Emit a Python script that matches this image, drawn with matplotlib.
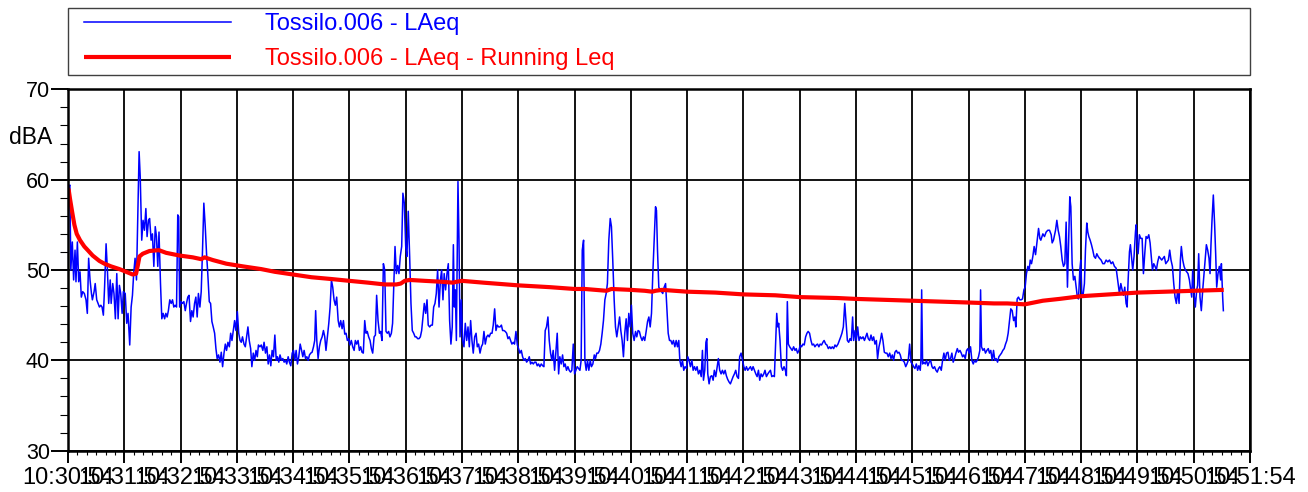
import numpy as np
import matplotlib
matplotlib.use("Agg")
import matplotlib.pyplot as plt
from matplotlib.lines import Line2D
from matplotlib.legend_handler import HandlerLine2D
from matplotlib.ticker import MultipleLocator

# ---------------- data (time in seconds after 10:30:54, level in dBA) ----------------
laeq_seg1 = [(0.7,59.2),(2,59.4),(3,50),(4.6,53.1),(6,48.9),(7.5,52.2),(8.5,48.7),(10,53.1),(11.4,48.7),(12.8,49.8),
 (14.2,47),(15.7,47.6),(17.4,47.4),(19.2,46.7),(20.6,45.2),(22,51.3),(23.5,48.9),(25,47.4),(26,46.7),(27.8,47.6),
 (29,48.5),(30.6,46.7),(32,46.3),(33.5,45.9),(35,46.1),(36.3,45.9),(37.7,45),(39,48.1),(40.6,52.9),(42,50),
 (43.4,46.3),(45,48.9),(46,46.3),(47.7,48.5),(49,47.4),(50.5,44.6),(52,49.6),(53.4,44.6),(54.8,48.3),(56.2,47.4),
 (57.7,45.2),(59,47.6),(61,47.4),(62.6,44.1),(64,45.2),(65.8,41.7),(67.3,45.9),(68.7,47.2),(70,49.6),(71.5,51.3),
 (73,48.9),(74.4,55.9),(75.8,63.1),(77,60.3),(78.6,53.3),(80,55.5),(81.5,54.4),(83,56.8),(84.3,53.7),(85.8,55.5),
 (87,55.7),(88.6,53.3),(90,54),(91.5,50.4),(93,54.8),(94.3,53.7),(95.7,50.4),(97,54.2),(98.6,48.5),(100,44.6),
 (101.4,45.2),(103,44.6),(104.3,45.2),(105.7,44.8),(107,45.5),(108.5,46.7),(110,46.3),(111.4,46.7),(112.8,45.9),
 (114.2,46.1),(115.7,45.9),(117,56.1),(118,55.9),(119,45.9),(120.6,46.5),(122,46.3),(123.5,46.5),(125,45.5),
 (126.3,46.3),(127.7,47),(129,47.2),(130.6,44.3),(132,45.5),(133.4,44.8),(134.9,46.3),(136.3,47),(137.7,44.8),
 (139,47.4),(140.6,45.9),(142,47.6),(143.4,52.2),(144.8,57.4),(146.3,54.8),(147.7,51.8),(149,49.6),(150.6,46.5),
 (152,46.3),(153.4,44.3),(154.8,43.7),(156.3,43),(157.7,41.3),(159,40.2),(160.5,40.6),(162,39.8),(163.4,40.9),
 (164.8,39.3),(166.3,40.8),(167.7,41.8),(169,41.1),(170.5,42),(172,41.5),(173.4,43),(174.8,42.2),(176.2,43.3),
 (177.6,44.4),(179,43.3),(180.5,45.4),(182,43),(183.4,42.2),(184.7,42),(186,42.6),(187.6,41.8),(189,41.5),
 (190.4,42.6),(191.8,43.7),(193.2,42.2),(194.7,41.3),(196,39.3),(197.5,40.8),(199,40),(200.4,41.1),(201.8,40.4),
 (203,41.7),(204.6,41.5),(206,41.7)]

laeq_seg2 = [(207.7,41.1),(209,42),(210.5,40.8),(212,41.5),(213.4,39.6),(214.8,40.6),(216.2,39.4),(217.6,41.1),
 (219,40.4),(220.5,42.8),(222,40),(223.3,40.4),(224.7,39.8),(226,40.6),(227.6,40),(229,40.2),(230.4,39.8),(231.8,40),
 (233.2,39.6),(234.7,40.4),(236,39.8),(237.5,39.4),(239,40.8),(240.4,41.1),(241.8,40),(243.2,41.1),(244.6,39.6),
 (246,40.4),(247.5,41.8),(249,41.1),(250.3,40.4),(251.7,41.1),(253.2,40.2),(254.6,40.4),(256,40),(257.4,40.6),
 (258.8,40.8),(260.2,40.9),(261.7,41.5),(263,42.2),(264,45.5),(265.2,42.2),(266.6,40.2),(268,41.5),(269.4,42.2),
 (270.9,42.6),(272.3,43.3),(273.7,42.6),(275,41.1),(276.5,42.6),(278,44.1),(279.4,45.9),(280.8,48.9),(282.2,48.1),
 (283.6,46.7),(285,46.1),(286.4,47),(288,44.4),(289.3,43.7),(290.7,44.4),(292.2,43.5),(293.6,44.4),(295,42.9),
 (296.4,43),(297.8,42.2),(299.2,42.4),(300.6,41.7),(302,42.2),(303.5,41.5),(305,41.1),(306.3,42.2),(307.7,41.8),
 (309.2,42.2),(310.6,41.1),(312,41.5),(313.4,40.9),(314.8,40.8),(316.3,44.4),(317.7,43),(319,43.2),(320.5,42.6),
 (322,42.2),(323.4,41.3),(324.8,40.8),(326.3,42.6),(327.7,42.8),(329,47.2),(330.5,44.4),(332,43),(333.3,43.2),
 (334.7,42.2),(336.2,50.7),(337.6,50),(339,43.2),(340.4,43),(341.8,43.2),(343.2,42.6),(344.7,43),(346,44.1),
 (347.5,49.2),(348.6,52.6),(350,49.6),(351.4,50.5),(352.8,49.6),(354.2,51.5),(355.7,52.6),(357,58.5),(358.5,57.4),
 (360,52.6),(361.3,51.5),(362.7,56.5),(364.2,51.5),(365.6,46.3),(367,43.3),(368.5,43),(370,42.6),(371.3,42.6),
 (372.7,42.4),(374.2,42.4),(375.6,42.6),(377,43.3),(378.4,44.8),(379.8,46.3),(381.3,45.2),(382.7,46.7),(384,43.9),
 (385.5,43.7),(387,43.9),(388.4,43.9),(389.8,45.9),(391.2,46.3),(392.6,47.4),(394,50),(395.5,45.9),(397,48.9),
 (398.3,50),(399.7,46.7),(401,49.6),(402.5,47.8),(404,49.6),(405.4,50.7),(406.8,44.4),(408.2,41.8),(409.6,43.7)]

laeq_seg3 = [(410.8,52.8),(411.8,45.9),(412.9,47.8),(414,42.2),(415,52.6),(415.7,59.8),(416.8,53.3),(417.9,42.6),
 (419.3,46.7),(420.7,42.2),(422.1,41.5),(423.5,44.1),(425,42.2),(426.4,43.7),(427.8,41.5),(429.2,44.4),(430.6,42.2),
 (432,40.8),(433.5,42.6),(435,43),(436.3,41.5),(437.7,41.8),(439.2,40.8),(440.6,41.5),(442,41.8),(443.4,43.2),
 (444.8,41.8),(446.3,42.6),(447.7,42.8),(449,42.6),(450.5,43),(452,43),(453.3,43.9),(454.8,45.7),(456.2,43.3),
 (457.6,43.9),(459,43.7),(460.5,43.7),(462,43.9),(463.3,43.3),(464.7,43.3),(466.1,43.2),(467.6,43),(469,42.4),
 (470.4,42.6),(471.8,42.2),(473.2,41.8),(474.7,42),(476,41.8),(477.5,43.2),(479,41.7),(480.3,41.3),(481.7,40.8),
 (483.2,41.1),(484.6,40.4),(486,40),(487.4,40.2),(488.9,39.8),(490.3,40),(491.7,40.4),(493.1,39.6),(494.5,39.8),
 (496,39.6),(497.4,39.8),(498.8,39.8),(500.2,39.4),(501.6,39.6),(503,39.3),(504.5,39.6),(506,39.4),(507.3,39.3),
 (508.7,43.3),(510.1,43.7),(511.6,44.8),(513,42.2),(514.4,40.8),(515.8,40),(517.2,41.1),(518.7,38.9),(520,40.8),
 (521.5,43),(523,38.5),(524.3,40.4),(525.8,39.6),(527.2,40.6),(528.6,39.3),(530,39.6),(531.4,38.9),(532.9,39.3),
 (534.3,38.9),(535.7,38.7),(537.1,38.9),(538.6,41.8),(540,38.5),(541.4,38.9),(542.8,39.3),(544.2,39.1),(545.7,38.9),
 (547,40),(548.2,52.2),(549.6,53.3),(551,40),(552.4,38.9),(553.8,40),(555.2,38.9),(556.7,40),(558,39.3),(559.5,39.6),
 (561,40.6),(562.3,40.2),(563.7,40.8),(565.2,40.8),(566.6,41.1),(568,41.8),(569.4,43),(570.8,44.4),(572.3,46.7),
 (573.7,47.4),(575,48.5),(576.5,53.3),(578,55.7),(579.3,54.8),(580.7,51.1),(582.2,46.7),(583.6,43.7),(585,42.6),
 (586.5,43.7),(588,44.8),(589.3,43.3),(590.7,42.2),(592.1,40.4),(593.5,43),(595,44.6),(596.4,42.2),(597.8,45.2),
 (599.2,43.7),(600.6,46.1),(602,43),(603.5,42.2),(605,43.2),(606.3,42.6),(607.7,43.3),(609.1,43.2),(610.5,42.6),
 (612,42.2),(613.4,42.6),(614.8,42.2)]

laeq_seg4 = [(616.3,43.2),(617.8,44.3),(619.2,44.8),(620.6,43.7),(622,45.2),(623.4,49.6),(624.9,53.3),(626.3,57),
 (627.3,56.6),(628.4,52.2),(629.8,48.1),(631.2,47.8),(632.7,47.6),(634,47.4),(635.5,48.1),(637,48.5),(638.3,45.9),
 (639.8,43),(641.2,42.2),(642.6,42.2),(644,41.8),(645.4,42.2),(646.9,41.5),(648.3,42.2),(649.7,41.5),(651.1,42.2),
 (652.2,40),(653.6,39.3),(655,40),(656.4,38.9),(657.8,39.3),(659.3,39.1),(660.7,40.4),(662,40),(663.5,39.3),(665,40),
 (666.4,38.9),(667.8,39.3),(669.2,38.9),(670.6,39.3),(672,38.5),(673.5,38.9),(675,38.2),(676.3,41.1),(677.4,37.8),
 (678.8,38.9),(680,42),(681,42.4),(682,38.5),(683.4,37.4),(684.8,38.2),(686.3,38.3),(687.7,37.8),(689,38.9),
 (690.5,38.2),(692,39.3),(693.3,40.2),(694.7,38.9),(696.2,38.5),(697.6,38.9),(699,38.5),(700.5,38.9),(701.8,38.3),
 (703.2,37.9),(704.7,37.6),(706.1,37.4),(707.6,37.8),(709,38.2),(710.4,38.5),(711.8,38.9),(713.2,38.2),(714.7,38),
 (716,40.4),(717.5,40.8),(719,40),(720.4,39.3),(721.8,38.9),(723.2,39.3),(724.6,38.9),(726,39.1),(727.5,39.3),
 (728.9,38.9),(730.3,39.3),(731.7,38.9),(733.2,38.5),(734.6,38.2),(736,38.9),(737.4,37.8),(738.8,38.5),(740.2,38.2),
 (741.7,38.5),(743,38.9),(744.5,38.2),(746,38.5),(747.3,38.7),(748.8,38.9),(750.2,38.2),(751.6,38.3),(753,38.2),
 (754.4,42.2),(755.5,45.2),(756.6,43.7),(757.6,44.1),(759,42.2),(760.4,39.3),(761.8,38.9),(763.3,39.3),(764.7,38.9),
 (765.8,38.3),(766.8,46.5),(767.9,41.8),(769.3,41.5),(770.7,41.3),(772,41.1),(773.5,41.5),(775,41.1),(776.3,41.3),
 (777.7,40.8),(779.2,41.1),(780.6,41.7),(782,41.5),(783.4,41.8),(784.8,41.7),(786.3,42.6),(787.7,43),(789,43.2),
 (790.5,43),(792,42.2),(793.3,41.7),(794.8,41.8),(796.2,41.5),(797.6,41.7),(799,41.8),(800.4,41.5),(801.8,41.8),
 (803.3,41.7),(804.7,42),(806,42.2),(807.7,41.8),(809,41.7),(810.5,41.3),(812,41.5),(813.3,41.3),(814.7,41.5),
 (816.2,41.3),(817.6,41.7),(819,41.5)]

laeq_seg5 = [(820.8,41.8),(822.3,42.2),(823.7,42.6),(825,43),(826.5,43.7),(828,46.3),(829.3,44.4),(830.8,42.2),
 (832.2,42),(833.6,42.4),(835,42.2),(836.4,44.8),(837.5,42.2),(839,43.3),(840.3,42.2),(841.8,43.7),(843.2,42.2),
 (844.6,42.6),(846,42.4),(847.5,42.6),(849,42.2),(850.3,42.6),(851.7,43),(853.1,42.4),(854.6,42.2),(856,42.8),
 (857.4,42.2),(858.8,42.6),(860.2,41.8),(861.7,42.2),(863,40.2),(864.5,41.5),(866,42.2),(867.3,43),(868.7,42.2),
 (870.2,40.9),(871.6,40.8),(873,40.8),(874.4,40.4),(875.9,40.8),(877.3,40.2),(878.7,40.6),(880.1,40),(881.5,40.9),
 (883,41.1),(884.4,40.8),(885.8,40.9),(887.2,40.6),(888.6,40),(890,40),(891.5,39.8),(893,39.3),(894.3,39.6),
 (895.7,40),(897.2,41.8),(898.6,39.8),(900,39.6),(901.4,39.3),(902.8,39.1),(904.3,39.6),(905.7,38.9),(907,39.4),
 (908.5,38.9),(909.2,40),(910,47.8),(911,39.6),(912.4,39.8),(913.8,39.6),(915.2,40),(916.6,39.4),(918,39.8),
 (919.5,40),(921,39.3),(922.3,39.1),(923.7,39.3),(925.2,38.9),(926.6,38.7),(928,39.1),(929.4,39.3),(930.9,38.9),
 (932.3,40),(933.7,40.8),(935.1,40),(936.5,40.8),(938,40.9),(939.4,40),(940.8,40.2),(942.2,40.8),(943.6,39.8),
 (945,40.2),(946.5,40.8),(948,41.3),(949.3,40.9),(950.8,41.1),(952.2,40.8),(953.6,40.4),(955,40.6),(956.4,40.2),
 (957.9,41.1),(959.3,41.3),(960.7,40.8),(962.1,41.5),(963.5,40),(965,39.6),(966.4,40),(967.8,39.8),(969.2,40),
 (970.6,40.4),(972,41.1),(972.8,47.8),(973.8,41.5),(975.3,41.1),(976.7,41.3),(978,40.8),(979.5,41.1),(981,41.3),
 (982.3,40.8),(983.7,41.1),(985.2,40),(986.6,41.1),(988,40),(989.4,40.2),(990.9,39.8),(992.3,40.4),(993.7,40.6),
 (995.1,40.8),(996.5,41.1),(998,41.3),(999.4,41.8),(1000.8,42.2),(1002.2,43),(1003.6,44.4),(1005,45.7),(1006.5,45.5),
 (1008,44.4),(1009.3,44.8),(1010.4,43.7),(1011.8,46.8),(1013.2,47),(1014.6,46.7),(1016,46.7),(1017.5,46.8),
 (1019,47.8),(1020.3,48.1)]

laeq_seg6 = [(1021.7,49.6),(1023.2,50.4),(1024.6,50.0),(1025.7,51.1),(1027.1,50.7),(1028.5,51.5),(1029.9,52.6),
 (1031.4,51.7),(1033.1,53.3),(1034.6,54.6),(1036.0,53.5),(1037.0,53.3),(1039.2,54.0),(1040.9,53.7),(1042.7,54.2),
 (1044.5,54.4),(1046.3,54.4),(1048.1,53.9),(1049.1,53.0),(1050.5,53.3),(1052.7,54.4),(1054.1,55.5),(1055.5,54.4),
 (1056.9,53.7),(1058.3,52.6),(1059.8,51.1),(1061.2,50.4),(1062.6,50.7),(1064.0,55.3),(1065.4,48.1),(1066.9,54.0),
 (1067.9,58.1),(1069.0,57.0),(1070.4,50.7),(1071.8,48.9),(1073.3,49.3),(1074.7,48.1),(1076.1,46.9),(1077.2,46.8),
 (1078.6,50.0),(1079.6,51.1),(1080.7,47.4),(1081.8,47.0),(1083.5,48.5),(1084.6,52.2),(1086.0,55.2),(1087.1,54.2),
 (1088.2,53.7),(1089.6,53.3),(1091.0,52.8),(1092.4,52.2),(1093.8,51.5),(1095.3,51.3),(1096.7,51.8),(1098.1,51.5),
 (1099.5,51.3),(1101.3,51.1),(1103.1,50.7),(1104.8,50.7),(1106.6,51.1),(1108.4,50.9),(1110.2,51.1),(1112.0,50.7),
 (1113.7,50.9),(1115.5,50.4),(1117.3,50.2),(1118.4,49.3),(1119.4,48.5),(1120.8,47.4),(1122.3,48.5),(1123.7,47.8),
 (1125.1,47.2),(1126.5,48.1),(1127.9,46.3),(1129.0,45.9),(1130.1,48.9),(1131.5,52.0),(1132.5,52.8),(1134.0,51.1),
 (1135.0,50.0),(1136.4,51.5),(1137.9,54.2),(1138.6,55.0),(1139.6,53.3),(1140.7,51.8),(1142.1,53.9),(1143.5,53.5),
 (1145.0,53.5),(1146.4,49.6),(1147.8,51.8),(1149.2,53.7),(1150.6,53.5),(1152.1,53.9),(1153.5,53.0),(1154.9,51.3),
 (1156.0,50.0),(1157.4,50.7),(1158.8,50.4),(1160.2,50.0),(1161.6,50.9),(1163.0,51.5),(1164.5,51.3),(1165.9,51.1),
 (1167.3,51.3),(1168.7,51.5),(1170.2,50.7),(1171.6,50.9),(1173.0,51.1),(1174.4,52.2),(1175.8,51.1),(1177.3,50.4),
 (1178.7,48.5),(1180.1,47.0),(1181.5,46.3),(1182.9,47.8),(1184.4,46.3),(1185.8,51.1),(1186.8,52.6),(1188.3,51.1),
 (1189.7,50.4),(1191.1,50.0),(1192.5,49.8),(1193.9,49.6),(1195.4,48.9),(1196.8,47.8),(1197.9,47.0),(1198.9,50.0),
 (1200.3,47.4),(1201.7,45.9),(1203.2,47.8),(1204.2,48.3),(1205.3,51.8),(1206.7,47.0),(1208.1,45.5),(1209.6,47.8),
 (1211.0,49.6),(1212.4,51.5),(1213.5,52.8),(1214.9,52.2),(1216.3,51.3),(1217.4,49.6),(1218.4,52.8),(1219.5,55.5),
 (1220.9,58.3),(1222.3,55.0),(1223.4,51.8),(1224.5,48.1),(1225.9,49.6),(1227.3,50.4),(1228.7,48.9),(1229.5,50.7),
 (1230.9,46.9),(1231.6,45.5)]

running_leq = [(0,58.9),(0.7,58.9),(2.1,57.9),(4.3,56.5),(6.8,55),(9.3,54),(12.8,53.3),(17.4,52.6),(21,52.2),
 (26.3,51.6),(33.5,51),(38.8,50.7),(45.9,50.4),(54.8,50.1),(62,49.8),(69,49.5),(72.6,49.6),(74.4,50.5),(76.2,51.5),
 (79.7,51.8),(86.8,52.1),(96.8,52.2),(104.6,51.9),(118.9,51.6),(133,51.4),(142,51.2),(145.6,51.4),(154.4,51.1),
 (168.7,50.7),(186.5,50.4),(206,50.1),(220.5,49.8),(240,49.5),(259.5,49.2),(280.8,49),(300,48.8),(319.9,48.6),
 (337.6,48.4),(350,48.4),(354.7,48.5),(359,48.8),(364.2,48.9),(380.2,48.8),(398,48.7),(410.4,48.6),(414.3,48.7),
 (420,48.8),(442.7,48.6),(480,48.3),(513.7,48.1),(540,47.9),(551,47.9),(574,47.7),(579.3,47.9),(600,47.8),
 (614.9,47.7),(622.7,47.6),(626.3,47.7),(633.4,47.8),(660,47.6),(690.2,47.5),(720,47.3),(754,47.2),(780,47),
 (819.7,46.9),(840,46.8),(900,46.6),(960,46.4),(987,46.3),(1001.2,46.3),(1020,46.2),(1039.2,46.6),(1056.9,46.8),
 (1080,47.1),(1110.2,47.3),(1140,47.5),(1170.5,47.6),(1200,47.7),(1232,47.8)]

tick_minutes = list(range(30, 52))
tick_labels = [f"10:{m:02d}:54" for m in tick_minutes]
series_labels = ["Tossilo.006 - LAeq", "Tossilo.006 - LAeq - Running Leq"]
y_label = "dBA"

# ---------------- drawing ----------------
plt.rcParams['font.family'] = ['Liberation Sans', 'DejaVu Sans']

laeq = laeq_seg1 + laeq_seg2 + laeq_seg3 + laeq_seg4 + laeq_seg5 + laeq_seg6
t_laeq, db_laeq = zip(*laeq)
t_run, db_run = zip(*running_leq)

W, H = 1308, 492
fig = plt.figure(figsize=(W / 100, H / 100), dpi=100)
ax_l, ax_r, ax_t, ax_b = 68, 1250, 89.3, 450.7
ax = fig.add_axes([ax_l / W, 1 - ax_b / H, (ax_r - ax_l) / W, (ax_b - ax_t) / H])

blue, red = '#0000FF', '#FF0000'
l1, = ax.plot(t_laeq, db_laeq, color=blue, lw=1.1)
l2, = ax.plot(t_run, db_run, color=red, lw=3.0, solid_capstyle='butt')

ax.set_xlim(0, (len(tick_labels) - 1) * 60)
ax.set_ylim(30, 70)
ax.set_xticks(np.arange(len(tick_labels)) * 60)
ax.set_xticklabels(tick_labels)
ax.xaxis.set_minor_locator(MultipleLocator(10))
ax.set_yticks([30, 40, 50, 60, 70])
ax.yaxis.set_minor_locator(MultipleLocator(2))
ax.grid(True, which='major', color='black', lw=1.3)

ax.tick_params(axis='x', which='major', direction='out', length=8.6, width=1.4, labelsize=17, pad=3.0)
ax.tick_params(axis='x', which='minor', direction='out', length=3, width=0.8)
ax.tick_params(axis='y', which='major', direction='out', length=12, width=1.4, labelsize=15.5, pad=1)
ax.tick_params(axis='y', which='minor', direction='out', length=6, width=0.8)
for s in ax.spines.values():
    s.set_linewidth(1.8)

ax.set_ylabel(y_label, rotation=0, ha='right', va='center', fontsize=16.5)
ax.yaxis.set_label_coords((52 - ax_l) / (ax_r - ax_l), (ax_b - 137) / (ax_b - ax_t))

fs = 17
box_top, box_bot = 8, 75
leg = ax.legend([l1, l2], series_labels, loc='lower left',
                bbox_to_anchor=(0, (ax_b - box_bot) / (ax_b - ax_t), 1, (box_bot - box_top) / (ax_b - ax_t)),
                mode='expand', borderaxespad=0, fontsize=fs, frameon=True, fancybox=False,
                edgecolor='#404040', framealpha=1, borderpad=0.22, labelspacing=0.53,
                handlelength=6.67, handletextpad=1.44,
                handler_map={Line2D: HandlerLine2D(xpad=0.47)})
leg.get_frame().set_linewidth(1.0)
for txt, c in zip(leg.get_texts(), [blue, red]):
    txt.set_color(c)

fig.savefig('out.png', dpi=100)
